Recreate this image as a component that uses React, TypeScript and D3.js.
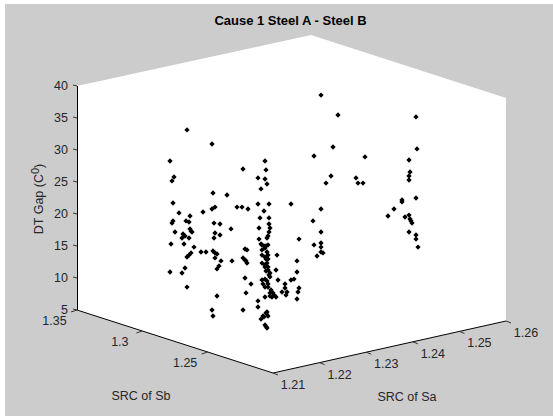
import React from "react";
import * as d3 from "d3";

const title = "Cause 1 Steel A - Steel B";
const gapTicks = [5, 10, 15, 20, 25, 30, 35, 40];
const sbTicks = [1.35, 1.3, 1.25];
const saTicks = [1.21, 1.22, 1.23, 1.24, 1.25, 1.26];

// Each point: distance across the plot box in view, DT gap as read on the vertical axis
const upperLeft = [
  [110,33.13],[135,30.94],[93,28.28],[97,25.78],[95,25.16],[96,21.72],[136,23.28],[150,22.97],
  [166,27.03],[160,21.09],[165,21.09],[171,20.78],[138,21.09],[135,20.78],[126,20.31],
];
const rightGroup = [
  [244,38.59],[261,35.47],[339,35.16],[340,30.16],[256,30.47],[237,29.06],[288,28.91],[332,28.44],
  [254,25.94],[249,24.84],[279,25.63],[281,24.84],[286,24.84],[333,26.56],[332,25.94],[332,25.31],
  [339,22.5],[325,22.19],[325,21.88],[317,20.78],[244,20.78],[214,21.56],[311,19.69],[328,19.53],
  [332,19.84],[333,19.22],[334,18.91],[335,18.59],[332,17.19],[339,16.72],[339,16.09],[341,14.84],
  [236,18.91],[244,17.19],[222,16.09],[244,15.47],[237,15.16],[244,14.84],[244,14.06],[246,13.91],[240,13.44],
];
const leftGroup = [
  [102,20.16],[96,18.91],[95,18.59],[109,18.91],[112,18.75],[113,19.69],[137,18.59],[143,18.44],
  [154,17.66],[98,17.19],[113,17.66],[114,17.34],[115,17.19],[106,16.88],[108,16.56],[105,16.25],
  [112,16.25],[94,15.31],[107,15.31],[117,14.84],[114,13.91],[112,13.59],[110,13.28],[124,14.06],
  [129,14.06],[138,17.03],[143,16.72],[137,16.25],[136,14.22],[138,13.91],[140,13.75],[138,13.13],
  [144,12.66],[155,12.66],[142,11.88],[140,11.41],[93,10.94],[105,10.78],[108,11.56],[110,8.59],
  [140,7.19],[135,5.0],[136,4.06],[166,5.0],
];
const midColumn = [
  [168,14.53],[170,14.38],[166,13.13],[168,12.81],[169,12.66],[170,12.34],[168,10],[174,9.06],[169,7.66],
];
const mainColumn = [
  [188,28.28],[189,26.88],[181,25.63],[188,25.47],[190,24.69],[184,23.91],[181,21.56],[192,21.56],
  [187,20.47],[183,19.38],[192,19.38],[192,18.44],[193,17.81],[182,17.81],[192,17.19],[191,16.56],
  [190,16.25],[182,16.09],[185,15.16],[191,15.16],[184,15.31],[187,15],[189,15],[188,14.69],
  [185,14.38],[190,14.06],[185,13.59],[191,13.59],[188,13.28],[189,12.97],[191,12.97],[185,12.34],
  [190,12.34],[188,12.03],[188,11.72],[191,11.72],[191,11.25],[189,11.09],[193,10.78],[192,10.47],
  [193,10.16],[185,9.69],[188,9.84],[190,9.53],[186,9.06],[191,9.06],[188,8.59],[191,8.59],
  [194,8.13],[193,7.66],[196,7.66],[197,7.34],[193,7.19],[188,7.03],[195,7.03],[199,7.03],
  [181,6.41],[181,5.47],[189,4.53],[190,4.69],[191,4.06],[186,4.06],[187,3.91],[184,3.59],
  [188,2.66],[189,2.42],[190,2.19],
];
const lowerRight = [
  [200,13.59],[199,11.25],[201,9.69],[208,9.06],[208,8.44],[205,7.81],[210,7.81],[209,7.34],
  [214,9.69],[217,9.84],[220,10.94],[220,12.66],[222,8.44],[221,7.81],[220,6.72],
];
const allPoints = [...upperLeft, ...rightGroup, ...leftGroup, ...midColumn, ...mainColumn, ...lowerRight];

const LEFT = 77, RIGHT = 506, FRONT = 273;
const planX = d3.scaleLinear().domain([0, 429]).range([LEFT, RIGHT]);
const gapY = d3.scaleLinear().domain([5, 40]).range([310, 86]);
const sbX = d3.scaleLinear().domain([1.2, 1.35]).range([FRONT, LEFT]);
const sbY = d3.scaleLinear().domain([1.2, 1.35]).range([373, 310]);
const saX = d3.scaleLinear().domain([1.21, 1.26]).range([FRONT, RIGHT]);
const saY = d3.scaleLinear().domain([1.21, 1.26]).range([373, 321]);

const marker = d3.symbol().type(d3.symbolSquare).size(14)() as string;
const wall = [[77, 86], [311, 35], [506, 98], [506, 321], [273, 373], [77, 310]];
const FONT = "'Liberation Sans', Arial, sans-serif";
const INK = "#262626";

export default function App() {
  return (
    <svg width={553} height={416} style={{ position: "absolute", left: 0, top: 0, display: "block" }} fontFamily={FONT}>
      <rect x={5} y={4} width={548} height={412} fill="#cccccc" />
      <polygon points={wall.map((p) => p.join(",")).join(" ")} fill="#ffffff" />
      <line x1={77.5} y1={gapY(40)} x2={77.5} y2={gapY(5)} stroke="#000" />
      <line x1={sbX(1.35)} y1={sbY(1.35)} x2={sbX(1.2)} y2={sbY(1.2)} stroke="#000" />
      <line x1={saX(1.21)} y1={saY(1.21)} x2={saX(1.26)} y2={saY(1.26)} stroke="#000" />
      {gapTicks.map((t) => (
        <g key={t}>
          <line x1={73} x2={77} y1={gapY(t) - 1} y2={gapY(t)} stroke="#333" />
          <text x={68} y={gapY(t) + 4} fontSize={12.5} textAnchor="end" fill={INK}>{t}</text>
        </g>
      ))}
      {sbTicks.map((t) => (
        <g key={t}>
          <line x1={sbX(t)} y1={sbY(t)} x2={sbX(t) - 6} y2={sbY(t) + 2} stroke="#333" />
          <text x={sbX(t) - 22.5} y={sbY(t) + 15} fontSize={12.5} textAnchor="middle" fill={INK}>{t}</text>
        </g>
      ))}
      {saTicks.map((t) => (
        <g key={t}>
          <line x1={saX(t)} y1={saY(t)} x2={saX(t) + 5} y2={saY(t) + 2} stroke="#333" />
          <text x={saX(t) + 20} y={saY(t) + 16} fontSize={12.5} textAnchor="middle" fill={INK}>{t}</text>
        </g>
      ))}
      {allPoints.map(([u, g], i) => (
        <path key={i} d={marker} transform={`translate(${planX(u)},${gapY(g)}) rotate(45)`} fill="#000" />
      ))}
      <text x={290.5} y={25} fontSize={13} fontWeight="bold" textAnchor="middle" fill="#000">{title}</text>
      <text x={141} y={400} fontSize={12.5} textAnchor="middle" fill={INK}>SRC of Sb</text>
      <text x={407} y={401} fontSize={12.5} textAnchor="middle" fill={INK}>SRC of Sa</text>
      <text transform="translate(43,199) rotate(-90)" fontSize={12.5} textAnchor="middle" fill={INK}>
        DT Gap (C<tspan dy={-4} fontSize={11}>0</tspan><tspan dy={4}>)</tspan>
      </text>
    </svg>
  );
}
